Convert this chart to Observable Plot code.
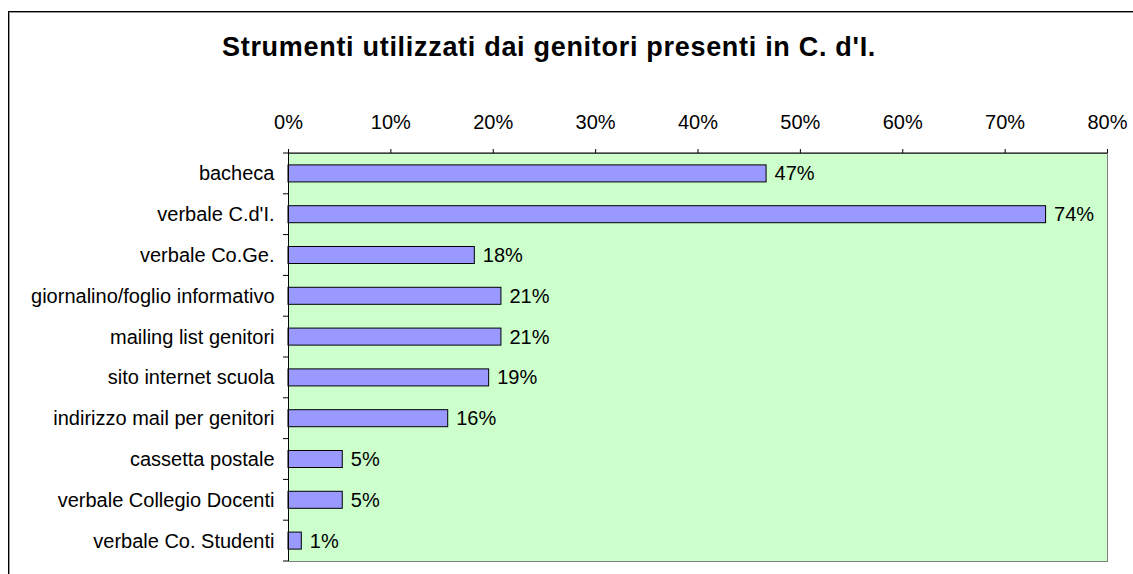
<!DOCTYPE html>
<html><head><meta charset="utf-8">
<script src="https://cdn.jsdelivr.net/npm/d3@7"></script>
<script src="https://cdn.jsdelivr.net/npm/@observablehq/plot@0.6"></script>
<style>
body{margin:0;background:#fff;}
#wrap{position:relative;width:1133px;height:574px;overflow:hidden;font-family:"Liberation Sans",Arial,sans-serif;}
#frame{position:absolute;left:8px;top:11px;width:1300px;height:800px;border-left:1px solid #000;border-top:1px solid #000;box-shadow:1px 1px 0 #999 inset;}
#title{position:absolute;left:222px;top:34px;font-size:27px;line-height:27px;letter-spacing:0.7px;font-weight:bold;white-space:nowrap;color:#000;}
#chart{position:absolute;left:0;top:0;}
</style></head>
<body>
<div id="wrap"><div id="frame"></div><div id="title">Strumenti utilizzati dai genitori presenti in C. d'I.</div><div id="chart"></div></div>
<script>
const categories = ["bacheca","verbale C.d'I.","verbale Co.Ge.","giornalino/foglio informativo","mailing list genitori","sito internet scuola","indirizzo mail per genitori","cassetta postale","verbale Collegio Docenti","verbale Co. Studenti"];
const values = [46.7, 74.0, 18.2, 20.8, 20.8, 19.6, 15.6, 5.3, 5.3, 1.3];
const valueLabels = ["47%","74%","18%","21%","21%","19%","16%","5%","5%","1%"];
const xTicks = [0, 10, 20, 30, 40, 50, 60, 70, 80];

const data = categories.map((c, i) => ({category: c, value: values[i], label: valueLabels[i]}));

const chart = Plot.plot({
  width: 1133, height: 574,
  marginLeft: 288, marginRight: 26, marginTop: 153, marginBottom: 13,
  style: {fontFamily: "Liberation Sans, Arial, sans-serif", fontSize: "20px", color: "#000", background: "transparent", overflow: "visible"},
  x: {domain: [0, 80], axis: "top", ticks: xTicks, tickFormat: d => d + "%", tickSize: 5, tickPadding: 20, label: null},
  y: {domain: categories, paddingInner: 0.583, paddingOuter: 0.2915, round: false, tickSize: 0, tickPadding: 14, label: null},
  marks: [
    Plot.frame({fill: "#CCFFCC", stroke: "#808080"}),
    Plot.barX(data, {x: "value", y: "category", fill: "#9999FF", stroke: "#000", strokeWidth: 1}),
    Plot.text(data, {x: "value", y: "category", text: "label", textAnchor: "start", dx: 8, fill: "#000", fontSize: 20}),
    Plot.ruleX([0], {stroke: "#000"})
  ]
});
document.getElementById("chart").appendChild(chart);

// top axis line and category boundary ticks, from the scales
const xs = chart.scale("x"), ys = chart.scale("y");
const svg = d3.select(chart);
const x0 = xs.apply(0), x1 = xs.apply(80);
const gap = (ys.step - ys.bandwidth) / 2;
const bounds = categories.map(c => ys.apply(c) - gap);
bounds.push(ys.apply(categories[categories.length - 1]) + ys.bandwidth + gap);
svg.append("line").attr("x1", x0).attr("x2", x1).attr("y1", bounds[0]).attr("y2", bounds[0]).attr("stroke", "#000");
svg.append("g").selectAll("line").data(bounds).join("line")
  .attr("x1", x0 - 5).attr("x2", x0).attr("y1", d => d).attr("y2", d => d).attr("stroke", "#000");
</script>
</body></html>
